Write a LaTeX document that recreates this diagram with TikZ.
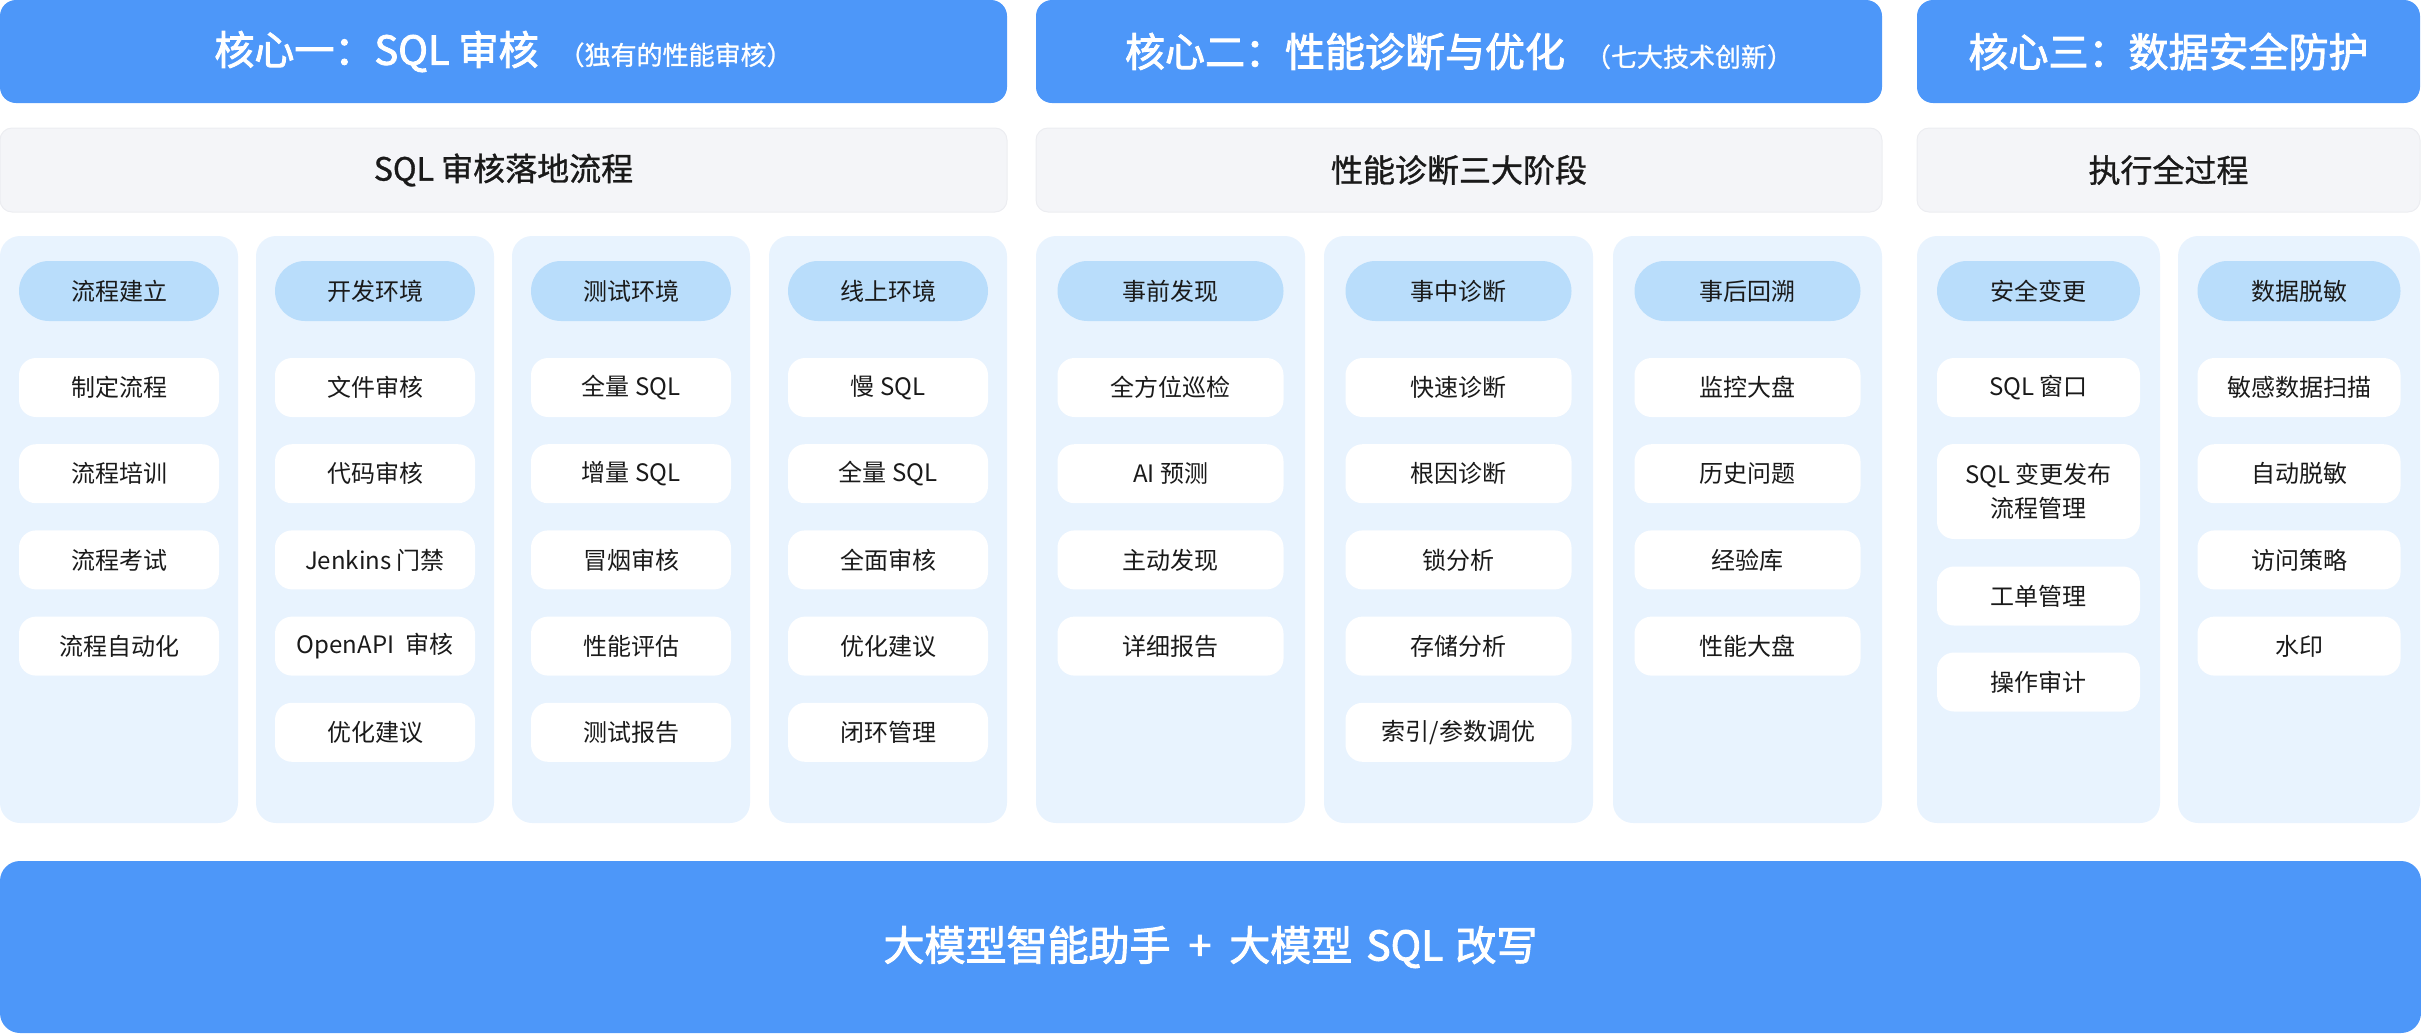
\documentclass[tikz,border=0pt]{standalone}
\usepackage{fontspec}
\setmainfont{Noto Sans CJK SC}
\newfontfamily\medfont{Noto Sans CJK SC}[FakeBold=1]
\newfontfamily\semifont{Noto Sans CJK SC}[FakeBold=2.2]
\definecolor{hblue}{HTML}{4D97F9}
\definecolor{panelbg}{HTML}{E8F3FE}
\definecolor{pillbg}{HTML}{B9DDFB}
\definecolor{graybg}{HTML}{F4F5F8}
\definecolor{grayln}{HTML}{ECEDF1}
\definecolor{txt}{HTML}{1A1A1A}
\begin{document}
\begin{tikzpicture}[x=0.5pt,y=-0.5pt,
 hdr/.style={fill=hblue, rounded corners=8pt, inner sep=0pt, minimum height=51.5pt, text=white},
 subrow/.style={fill=graybg, draw=grayln, line width=0.5pt, rounded corners=6pt, minimum height=42pt, inner sep=0pt, text=txt, font=\fontsize{16}{19}\medfont},
 panel/.style={fill=panelbg, rounded corners=10pt, minimum height=293.5pt, inner sep=0pt},
 pill/.style={fill=pillbg, rounded corners=15pt, minimum height=30pt, inner sep=0pt, text=txt, font=\fontsize{12}{14}\selectfont},
 item/.style={fill=white, rounded corners=8.5pt, minimum height=29.5pt, inner sep=0pt, text=txt, font=\fontsize{12}{14}\selectfont, align=center},
]
\useasboundingbox (0,0) rectangle (2421,1034);

% ---- headers ----
\node[hdr, minimum width=503.5pt] (h1) at (503.5,51.5)
  {{\fontsize{20}{24}\semifont 核心一：SQL 审核}\hspace{10pt}{\fontsize{13}{16}\medfont （独有的性能审核）}};
\node[hdr, minimum width=423pt] (h2) at (1459,51.5)
  {{\fontsize{20}{24}\semifont 核心二：性能诊断与优化}\hspace{10pt}{\fontsize{13}{16}\medfont （七大技术创新）}};
\node[hdr, minimum width=251.5pt] (h3) at (2168.5,51.5)
  {{\fontsize{20}{24}\semifont 核心三：数据安全防护}};

% ---- sub rows ----
\node[subrow, minimum width=503.5pt] (s1) at (503.5,170) {SQL 审核落地流程};
\node[subrow, minimum width=423pt] (s2) at (1459,170) {性能诊断三大阶段};
\node[subrow, minimum width=251.5pt] (s3) at (2168.5,170) {执行全过程};

% ---- group 1 ----
\foreach \cx/\ttl/\items [count=\c] in {
  119/流程建立/{制定流程,流程培训,流程考试,流程自动化},
  375/开发环境/{文件审核,代码审核,Jenkins 门禁,OpenAPI\ \ 审核,优化建议},
  631/测试环境/{全量 SQL,增量 SQL,冒烟审核,性能评估,测试报告},
  888/线上环境/{慢 SQL,全量 SQL,全面审核,优化建议,闭环管理}}{
  \node[panel, minimum width=119pt] (ap\c) at (\cx,529.5) {};
  \node[pill, minimum width=100pt] (at\c) at (\cx,291) {\ttl};
  \foreach \t [count=\r] in \items {
    \pgfmathsetmacro\yy{387.5+86.2*(\r-1)}
    \node[item, minimum width=100pt] (a\c-\r) at (\cx,\yy) {\t};
  }
}

% ---- group 2 ----
\foreach \cx/\ttl/\items [count=\c] in {
  1170.5/事前发现/{全方位巡检,AI 预测,主动发现,详细报告},
  1458.5/事中诊断/{快速诊断,根因诊断,锁分析,存储分析,索引/参数调优},
  1747.5/事后回溯/{监控大盘,历史问题,经验库,性能大盘}}{
  \node[panel, minimum width=134.5pt] (bp\c) at (\cx,529.5) {};
  \node[pill, minimum width=113pt] (bt\c) at (\cx,291) {\ttl};
  \foreach \t [count=\r] in \items {
    \pgfmathsetmacro\yy{387.5+86.2*(\r-1)}
    \node[item, minimum width=113pt] (b\c-\r) at (\cx,\yy) {\t};
  }
}

% ---- group 3 ----
\node[panel, minimum width=121.5pt] (cp1) at (2038.5,529.5) {};
\node[pill, minimum width=101.5pt] (ct1) at (2038.5,291) {安全变更};
\node[item, minimum width=101.5pt] (c1-1) at (2038.5,387.5) {SQL 窗口};
\node[item, minimum width=101.5pt, minimum height=47.5pt] (c1-2) at (2038.5,491.5) {SQL 变更发布\\[3pt]流程管理};
\node[item, minimum width=101.5pt] (c1-3) at (2038.5,596) {工单管理};
\node[item, minimum width=101.5pt] (c1-4) at (2038.5,682) {操作审计};

\node[panel, minimum width=121pt] (cp2) at (2299,529.5) {};
\node[pill, minimum width=101.5pt] (ct2) at (2299,291) {数据脱敏};
\foreach \t [count=\r] in {敏感数据扫描,自动脱敏,访问策略,水印} {
  \pgfmathsetmacro\yy{387.5+86.2*(\r-1)}
  \node[item, minimum width=101.5pt] (c2-\r) at (2299,\yy) {\t};
}

% ---- bottom bar ----
\node[fill=hblue, rounded corners=10pt, minimum width=1210.5pt, minimum height=86pt, inner sep=0pt, text=white,
  font=\fontsize{20.5}{25}\semifont] (base) at (1210.5,947)
  {大模型智能助手\hspace{9pt}+\hspace{9pt}大模型\hspace{7pt}SQL\hspace{6pt}改写};
\end{tikzpicture}
\end{document}
